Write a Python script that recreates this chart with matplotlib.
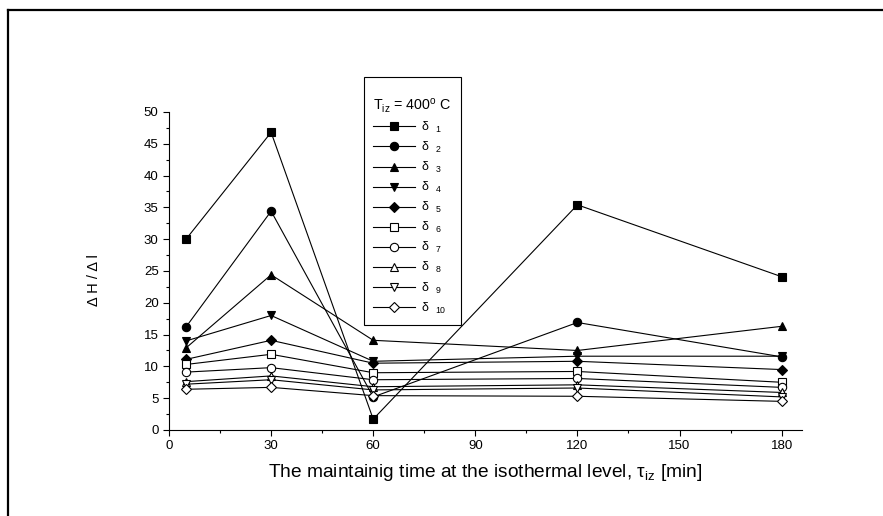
"""Delta H / Delta l vs. holding time at the isothermal level (T_iz = 400 C)."""
import matplotlib
matplotlib.use("Agg")
import matplotlib.pyplot as plt
from matplotlib.lines import Line2D
from matplotlib.ticker import MultipleLocator

plt.rcParams["font.family"] = ["Liberation Sans", "DejaVu Sans"]
plt.rcParams["mathtext.fontset"] = "custom"
plt.rcParams["mathtext.rm"] = "Liberation Sans"
plt.rcParams["mathtext.it"] = "Liberation Sans:italic"

TIME = [5, 30, 60, 120, 180]

D1 = [30.0, 46.8, 1.7, 35.4, 24.1]
D2 = [16.2, 34.4, 5.2, 16.9, 11.5]
D3 = [12.9, 24.4, 14.1, 12.5, 16.3]
D4 = [14.0, 18.0, 10.8, 11.6, 11.6]
D5 = [11.1, 14.1, 10.5, 10.8, 9.5]
D6 = [10.3, 11.9, 9.0, 9.2, 7.5]
D7 = [9.1, 9.8, 7.9, 8.1, 6.7]
D8 = [7.6, 8.5, 6.8, 7.1, 5.9]
D9 = [7.2, 7.9, 6.3, 6.6, 5.2]
D10 = [6.4, 6.7, 5.4, 5.3, 4.5]

SERIES = [D1, D2, D3, D4, D5, D6, D7, D8, D9, D10]
LABELS = ["δ  $_{\\rm %d}$" % i for i in range(1, 11)]
MARKERS = ["s", "o", "^", "v", "D", "s", "o", "^", "v", "D"]
FILLED = [True] * 5 + [False] * 5

fig = plt.figure(figsize=(8.83, 5.16), dpi=100)
ax = fig.add_axes([0.1914, 0.1667, 0.7169, 0.6163])

for vals, lab, mk, filled in zip(SERIES, LABELS, MARKERS, FILLED):
    ms = 5.0 if mk == "D" else 6.0
    ax.plot(TIME, vals, color="black", lw=0.8, marker=mk, ms=ms,
            mfc="black" if filled else "white", mec="black", mew=0.8,
            label=lab)

ax.set_xlim(0, 186)
ax.set_ylim(0, 50)
ax.xaxis.set_major_locator(MultipleLocator(30))
ax.xaxis.set_minor_locator(MultipleLocator(15))
ax.yaxis.set_major_locator(MultipleLocator(5))
ax.yaxis.set_minor_locator(MultipleLocator(2.5))
ax.tick_params(which="major", direction="out", length=4, width=0.8, labelsize=9.5)
ax.tick_params(which="minor", direction="out", length=2.5, width=0.8)
for side in ("top", "right"):
    ax.spines[side].set_visible(False)
for side in ("left", "bottom"):
    ax.spines[side].set_linewidth(0.8)

ax.set_xlabel("The maintainig time at the isothermal level, τ$_{\\rm iz}$ [min]",
              fontsize=13.8, labelpad=7)
ax.set_ylabel("Δ H / Δ l", fontsize=10.5)
ax.yaxis.set_label_coords(-0.107, 0.47)

leg = ax.legend(loc="upper left", bbox_to_anchor=(364 / 883, 1 - 77 / 516),
                bbox_transform=fig.transFigure, borderaxespad=0,
                title="\nT$_{\\rm iz}$ = 400$^{\\rm o}$ C", title_fontsize=10.3,
                alignment="left", fontsize=9, handlelength=3.3, handletextpad=0.5,
                labelspacing=0.4, borderpad=0.75, fancybox=False,
                edgecolor="black", framealpha=1)
leg.get_title().set_linespacing(0.7)
leg.get_frame().set_linewidth(0.8)

# outer border of the original figure page
fig.add_artist(Line2D([8 / 883, 8 / 883], [0, 1 - 10 / 516], color="black", lw=1.6))
fig.add_artist(Line2D([8 / 883, 1], [1 - 10 / 516, 1 - 10 / 516], color="black", lw=1.6))

fig.savefig("out.png", dpi=100)
